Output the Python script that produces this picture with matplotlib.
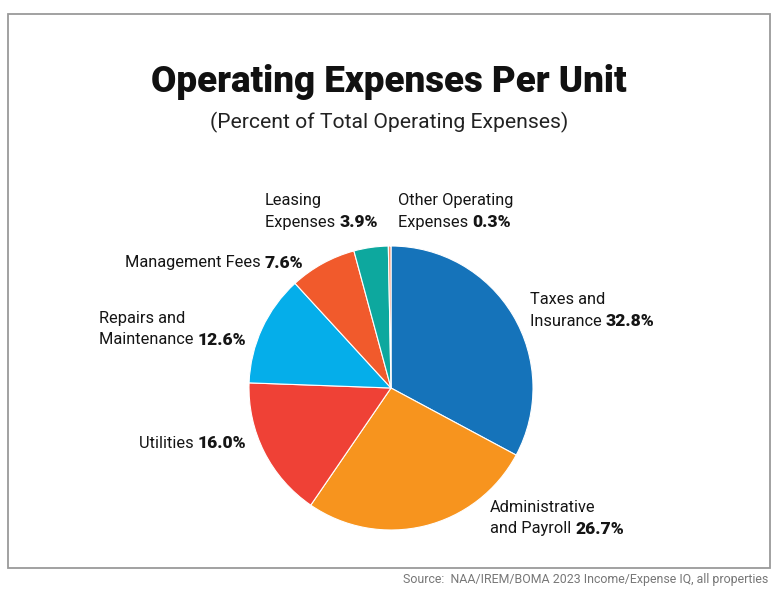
import matplotlib
matplotlib.use("Agg")
import matplotlib.pyplot as plt
from matplotlib.patches import Rectangle

categories = ["Taxes and Insurance", "Administrative and Payroll", "Utilities",
              "Repairs and Maintenance", "Management Fees", "Leasing Expenses",
              "Other Operating Expenses"]
values = [32.8, 26.7, 16.0, 12.6, 7.6, 3.9, 0.3]
colors = ["#1573BA", "#F7941E", "#EF4136", "#05AEEA", "#F15A2C", "#0DA89E", "#F68C6A"]

W, H = 778, 599
fig = plt.figure(figsize=(W / 100, H / 100), dpi=100)
fig.patch.set_facecolor("white")

FAM = ["Roboto", "DejaVu Sans"]

def fx(px):
    return px / W

def fy(py):
    return 1 - py / H

# border box
fig.patches.append(Rectangle((fx(8), fy(568)), fx(770) - fx(8), fy(14) - fy(568),
                             transform=fig.transFigure, fill=False,
                             edgecolor="#9a9a9a", linewidth=1.3))

fig.text(0.5, fy(82), "Operating Expenses Per Unit", ha="center", va="center",
         fontsize=26.5, fontweight="black", family=FAM, color="#111111")
fig.text(0.5, fy(122), "(Percent of Total Operating Expenses)", ha="center", va="center",
         fontsize=15.2, fontweight="normal", family=FAM, color="#222222")
fig.text(fx(768), fy(580), "Source:  NAA/IREM/BOMA 2023 Income/Expense IQ, all properties",
         ha="right", va="center", fontsize=8.9, family=FAM, color="#777777")

cx, cy, r = 391, 388, 142
ax = fig.add_axes([fx(cx - r), fy(cy + r), 2 * r / W, 2 * r / H])
ax.pie(values, colors=colors, startangle=90, counterclock=False,
       wedgeprops=dict(edgecolor="white", linewidth=0.8))
ax.set_xlim(-1, 1)
ax.set_ylim(-1, 1)
ax.set_aspect("auto")
ax.axis("off")

renderer = fig.canvas.get_renderer()
FS = 11.8
FSB = 12.6
TXT = "#151515"

def label(x, y, lines, pct, ha="left"):
    """Left-aligned block at x (ha='left') or single line right-aligned at x."""
    lh = 22
    n = len(lines)
    for i, line in enumerate(lines):
        yy = y + i * lh
        if i < n - 1:
            fig.text(fx(x), fy(yy), line, ha="left", va="center", fontsize=FS,
                     family=FAM, color=TXT)
        elif ha == "left":
            t = fig.text(fx(x), fy(yy), line + " ", ha="left", va="center",
                         fontsize=FS, family=FAM, color=TXT)
            bb = t.get_window_extent(renderer)
            fig.text(bb.x1 / W, fy(yy), pct, ha="left", va="center",
                     fontsize=FSB, fontweight="black", family=FAM, color=TXT)
        else:
            t = fig.text(fx(x), fy(yy), pct, ha="right", va="center",
                         fontsize=FSB, fontweight="black", family=FAM, color=TXT)
            bb = t.get_window_extent(renderer)
            fig.text(bb.x0 / W, fy(yy), line + " ", ha="right", va="center",
                     fontsize=FS, family=FAM, color=TXT)

label(530, 299, ["Taxes and", "Insurance"], f"{values[0]:.1f}%")
label(490, 507, ["Administrative", "and Payroll"], f"{values[1]:.1f}%")
label(246, 443, ["Utilities"], f"{values[2]:.1f}%", ha="right")
label(99, 318, ["Repairs and", "Maintenance"], f"{values[3]:.1f}%")
label(303, 263, ["Management Fees"], f"{values[4]:.1f}%", ha="right")
label(265, 200, ["Leasing", "Expenses"], f"{values[5]:.1f}%")
label(398, 200, ["Other Operating", "Expenses"], f"{values[6]:.1f}%")

fig.savefig("out.png", dpi=100)
